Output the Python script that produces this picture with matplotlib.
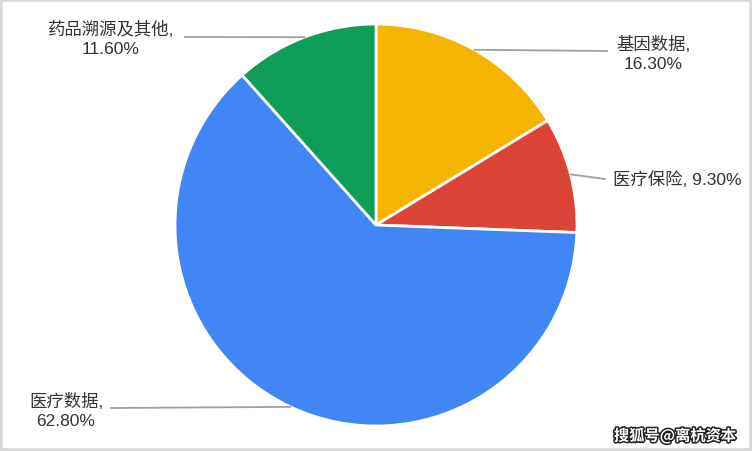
import numpy as np
import matplotlib.pyplot as plt
import matplotlib.patheffects as pe
from matplotlib.patches import Rectangle

plt.rcParams['font.family'] = ['Liberation Sans', 'Noto Sans CJK SC', 'DejaVu Sans']

# 数据
labels = ['基因数据', '医疗保险', '医疗数据', '药品溯源及其他']
values = [16.3, 9.3, 62.8, 11.6]
colors = ['#F4B400', '#DB4437', '#4285F4', '#0F9D58']

fig = plt.figure(figsize=(7.52, 4.52), dpi=100)
ax = fig.add_axes([0, 0, 1, 1])

cx, cy, r = 376, 226, 201
# y轴翻转后, 从顶部顺时针排列
wedges, _ = ax.pie(values, colors=colors, startangle=-90, counterclock=True,
                   center=(cx, cy), radius=r, frame=True,
                   wedgeprops=dict(edgecolor='white', linewidth=2))
ax.set_xlim(0, 752)
ax.set_ylim(452, 0)
ax.set_aspect('equal')
ax.axis('off')

# 标签位置 (文字锚点, 引线终点)
txt_pos = [(653, 54), (613, 180), (66, 411), (111, 39)]
line_end = [(607, 52), (605, 180), (111, 409), (185, 38)]
txt_ha = ['center', 'left', 'center', 'center']

tot = sum(values)
cum = 0
for i, v in enumerate(values):
    mid = (cum + v / 2) / tot * 360
    cum += v
    ex = cx + r * np.sin(np.radians(mid))
    ey = cy - r * np.cos(np.radians(mid))
    lx, ly = line_end[i]
    ax.plot([ex, lx], [ey, ly], color='#a0a0a0', lw=1.3)
    if labels[i] == '医疗保险':
        s = f'{labels[i]}, {v:.2f}%'
    else:
        s = f'{labels[i]},\n{v:.2f}%'
    ax.text(txt_pos[i][0], txt_pos[i][1], s, ha=txt_ha[i], va='center',
            fontsize=12.5, color='#333333', linespacing=1.3,
            multialignment='center', fontweight=500)

# 水印
ax.text(736, 437, '搜狐号@离杭资本', ha='right', va='center', fontsize=11,
        color='white', fontweight='bold', family=['Noto Sans CJK SC', 'DejaVu Sans'],
        path_effects=[pe.withStroke(linewidth=2.2, foreground='#222222')])

fig.patches.append(Rectangle((0, 0), 1, 1, transform=fig.transFigure,
                             fill=False, edgecolor='#d8d8d8', linewidth=4))

fig.savefig('out.png', dpi=100)
